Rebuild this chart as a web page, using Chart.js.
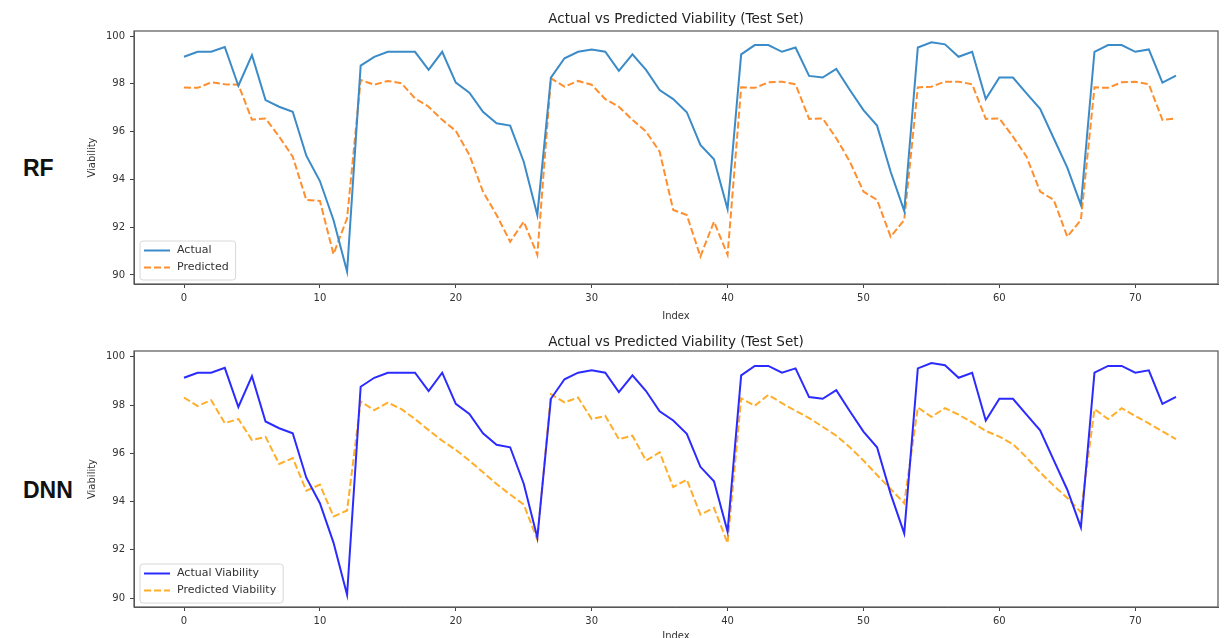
<!DOCTYPE html>
<html>
<head>
<meta charset="utf-8">
<script src="https://cdn.jsdelivr.net/npm/chart.js@4.4.0/dist/chart.umd.min.js"></script>
<style>
  html, body { margin: 0; padding: 0; background: #fff; overflow: hidden; }
  body { width: 1227px; height: 638px; position: relative; }
  canvas { position: absolute; left: 0; }
  #rfChart { top: 0; }
  #dnnChart { top: 322px; }
  .model { position: absolute; left: 23px; font: bold 23px "Liberation Sans", "DejaVu Sans", sans-serif; color: #111; line-height: 24px; }
</style>
</head>
<body>
<div class="model" style="top:156px">RF</div>
<div class="model" style="top:478px">DNN</div>
<canvas id="rfChart" width="1227" height="322"></canvas>
<canvas id="dnnChart" width="1227" height="320"></canvas>
<script>
// test set index 0..73
const indices = Array.from({ length: 74 }, (_, i) => i);

const actual = [
  99.13, 99.34, 99.34, 99.54, 97.92, 99.20, 97.32, 97.04, 96.83, 94.99,
  93.93, 92.30, 90.14, 98.76, 99.13, 99.34, 99.34, 99.34, 98.58, 99.34,
  98.05, 97.63, 96.83, 96.35, 96.25, 94.74, 92.51, 98.26, 99.07, 99.34,
  99.44, 99.34, 98.54, 99.23, 98.58, 97.74, 97.36, 96.81, 95.44, 94.84,
  92.76, 99.23, 99.62, 99.62, 99.34, 99.52, 98.33, 98.26, 98.62, 97.74,
  96.90, 96.25, 94.32, 92.68, 99.52, 99.74, 99.65, 99.13, 99.34, 97.36,
  98.26, 98.26, 97.60, 96.95, 95.72, 94.49, 92.93, 99.34, 99.62, 99.62,
  99.34, 99.44, 98.05, 98.34
];

const rfPredicted = [
  97.85, 97.83, 98.06, 97.98, 97.96, 96.50, 96.55, 95.79, 94.95, 93.14,
  93.10, 90.87, 92.37, 98.16, 97.96, 98.12, 98.02, 97.39, 97.04, 96.49,
  96.03, 95.02, 93.49, 92.51, 91.39, 92.23, 90.84, 98.23, 97.88, 98.12,
  97.96, 97.36, 97.04, 96.49, 96.00, 95.16, 92.72, 92.51, 90.77, 92.23,
  90.84, 97.85, 97.83, 98.06, 98.09, 97.98, 96.53, 96.55, 95.72, 94.74,
  93.49, 93.14, 91.60, 92.30, 97.85, 97.88, 98.09, 98.09, 97.98, 96.53,
  96.55, 95.79, 94.95, 93.49, 93.14, 91.60, 92.30, 97.85, 97.83, 98.06,
  98.09, 97.98, 96.49, 96.55
];

const dnnPredicted = [
  98.31, 97.96, 98.20, 97.25, 97.42, 96.55, 96.68, 95.56, 95.80, 94.45,
  94.70, 93.38, 93.63, 98.15, 97.79, 98.10, 97.83, 97.42, 96.96, 96.52,
  96.14, 95.70, 95.21, 94.73, 94.29, 93.88, 92.42, 98.45, 98.11, 98.31,
  97.42, 97.55, 96.59, 96.73, 95.70, 96.04, 94.60, 94.91, 93.46, 93.74,
  92.28, 98.28, 97.97, 98.42, 98.08, 97.76, 97.46, 97.10, 96.73, 96.25,
  95.70, 95.10, 94.52, 93.93, 97.90, 97.51, 97.87, 97.60, 97.28, 96.93,
  96.69, 96.38, 95.83, 95.21, 94.66, 94.15, 93.56, 97.83, 97.42, 97.87,
  97.55, 97.24, 96.91, 96.59
];

const xTicks = [0, 10, 20, 30, 40, 50, 60, 70];
const yTicks = [90, 92, 94, 96, 98, 100];

const FONT = '"DejaVu Sans", sans-serif';

// full matplotlib-style box around the plot
const frame = {
  id: 'frame',
  afterDatasetsDraw(chart) {
    const { ctx, chartArea: a } = chart;
    ctx.save();
    ctx.strokeStyle = '#555';
    ctx.lineWidth = 1.2;
    ctx.strokeRect(a.left, a.top, a.right - a.left, a.bottom - a.top);
    ctx.restore();
  }
};

// legend box in the lower left corner of the plot
const boxLegend = {
  id: 'boxLegend',
  afterDatasetsDraw(chart) {
    const { ctx, chartArea: a } = chart;
    const sets = chart.data.datasets;
    ctx.save();
    ctx.font = '11px ' + FONT;
    const textW = Math.max(...sets.map(d => ctx.measureText(d.label).width));
    const w = 37 + textW + 7, h = 39;
    const x = a.left + 6, y = a.bottom - 4 - h;
    ctx.beginPath();
    ctx.roundRect(x, y, w, h, 3);
    ctx.fillStyle = 'rgba(255,255,255,0.85)';
    ctx.fill();
    ctx.strokeStyle = '#d8d8d8';
    ctx.lineWidth = 1;
    ctx.stroke();
    sets.forEach((d, i) => {
      const ry = y + 9.5 + i * 17;
      ctx.beginPath();
      ctx.setLineDash(d.borderDash || []);
      ctx.strokeStyle = d.borderColor;
      ctx.lineWidth = d.borderWidth;
      ctx.moveTo(x + 4, ry);
      ctx.lineTo(x + 30, ry);
      ctx.stroke();
      ctx.setLineDash([]);
      ctx.fillStyle = '#333';
      ctx.textBaseline = 'middle';
      ctx.fillText(d.label, x + 37, ry);
    });
    ctx.restore();
  }
};

function makeChart(el, cfg) {
  return new Chart(el, {
    type: 'line',
    data: {
      datasets: [
        {
          label: cfg.labels[0],
          data: indices.map(i => ({ x: i, y: actual[i] })),
          borderColor: cfg.colors[0],
          borderWidth: 2,
          pointRadius: 0,
          tension: 0
        },
        {
          label: cfg.labels[1],
          data: indices.map(i => ({ x: i, y: cfg.predicted[i] })),
          borderColor: cfg.colors[1],
          borderWidth: 2,
          borderDash: [7, 3],
          pointRadius: 0,
          tension: 0
        }
      ]
    },
    options: {
      responsive: false,
      animation: false,
      events: [],
      layout: { padding: { left: 0, right: 9, top: 0, bottom: 0 } },
      plugins: {
        legend: { display: false },
        tooltip: { enabled: false },
        title: {
          display: true,
          fullSize: false,
          text: 'Actual vs Predicted Viability (Test Set)',
          color: '#222',
          font: { family: FONT, size: 13.5, weight: 'normal' },
          padding: cfg.titlePad
        }
      },
      scales: {
        x: {
          type: 'linear',
          min: -3.68,
          max: 76.09,
          afterFit: s => { s.height = cfg.xHeight; },
          afterBuildTicks: s => { s.ticks = xTicks.map(v => ({ value: v })); },
          ticks: { color: '#333', font: { family: FONT, size: 10 }, padding: 4, maxRotation: 0 },
          grid: { drawOnChartArea: false, drawTicks: true, tickLength: 4, color: '#444' },
          border: { display: true, color: '#555' },
          title: { display: true, text: 'Index', color: '#333', font: { family: FONT, size: 10 }, padding: { top: 0, bottom: 0 } }
        },
        y: {
          min: cfg.yMin,
          max: cfg.yMax,
          afterFit: s => { s.width = 134; },
          afterBuildTicks: s => { s.ticks = yTicks.map(v => ({ value: v })); },
          ticks: { color: '#333', font: { family: FONT, size: 10 }, padding: 5 },
          grid: { drawOnChartArea: false, drawTicks: true, tickLength: 4, color: '#444' },
          border: { display: true, color: '#555' },
          title: { display: true, text: 'Viability', color: '#333', font: { family: FONT, size: 10 }, padding: { top: 86, bottom: 0 } }
        }
      }
    },
    plugins: [frame, boxLegend]
  });
}

makeChart(document.getElementById('rfChart'), {
  labels: ['Actual', 'Predicted'],
  colors: ['#3b8bc8', '#ff8f2e'],
  predicted: rfPredicted,
  titlePad: { top: 10.9, bottom: 3.9 },
  xHeight: 38,
  yMin: 89.62,
  yMax: 100.21
});

makeChart(document.getElementById('dnnChart'), {
  labels: ['Actual Viability', 'Predicted Viability'],
  colors: ['#2b2bff', '#ffae2a'],
  predicted: dnnPredicted,
  titlePad: { top: 11.9, bottom: 0.9 },
  xHeight: 35,
  yMin: 89.63,
  yMax: 100.24
});
</script>
</body>
</html>
